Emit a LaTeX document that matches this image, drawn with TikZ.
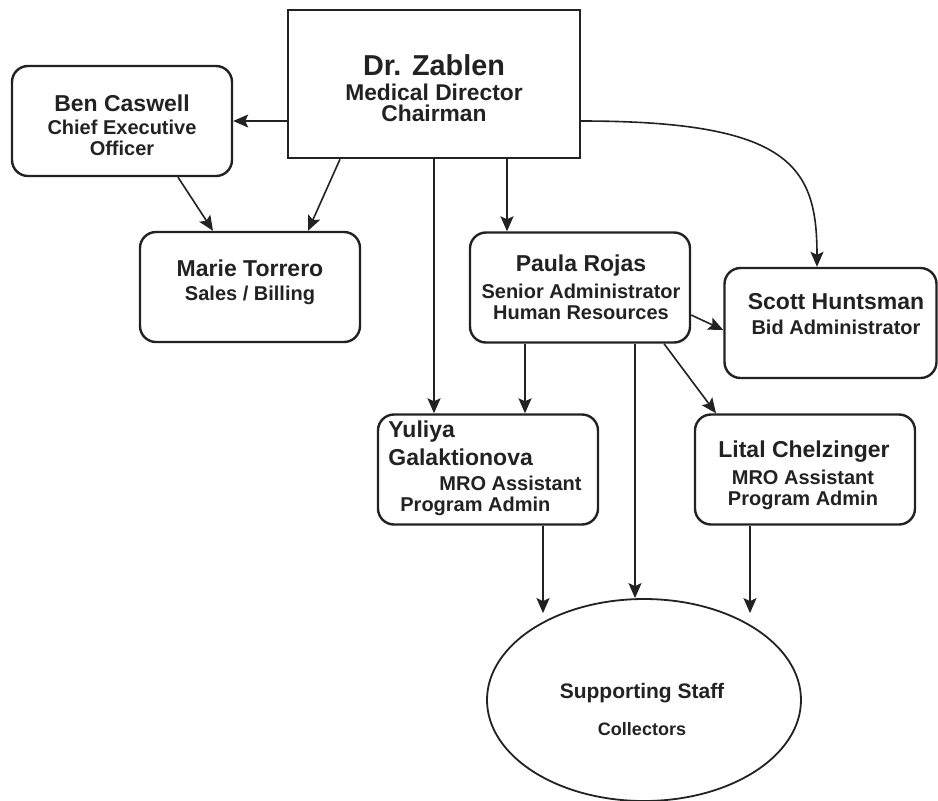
\documentclass[tikz,border=0pt]{standalone}
\usepackage{fontspec}
\setmainfont{Liberation Sans}
\usetikzlibrary{arrows.meta,shapes.geometric}
\definecolor{ink}{HTML}{222222}
\begin{document}
\begin{tikzpicture}[x=0.5pt,y=-0.5pt,
  box/.style={draw=ink, line width=1.2pt, rounded corners=8pt, minimum width=110pt, minimum height=55pt, inner sep=0pt},
  nm/.style={font=\fontsize{11.5}{12}\selectfont\bfseries, text=ink, inner sep=0pt},
  sub/.style={font=\fontsize{10}{10.8}\selectfont\bfseries, text=ink, align=center, inner sep=0pt},
  arr/.style={draw=ink, line width=0.8pt, -{Stealth[length=7.5pt,width=6.5pt,inset=1.5pt]}}]
\useasboundingbox (0,0) rectangle (938,800);
\fill[white] (0,0) rectangle (938,800);

% boxes
\node[draw=ink, line width=1.2pt, minimum width=146pt, minimum height=74pt, inner sep=0pt] (dr) at (434,84) {};
\node[box] (ben) at (122,121) {};
\node[box] (mar) at (250,287) {};
\node[box] (pau) at (580,287.5) {};
\node[box, minimum width=106pt] (sco) at (830.5,323) {};
\node[box] (yul) at (488,469.5) {};
\node[box] (lit) at (805,469.5) {};
\node[ellipse, draw=ink, line width=0.9pt, minimum width=157pt, minimum height=101pt, inner sep=0pt] (ell) at (644,700) {};

% texts
\node[font=\fontsize{14.4}{15}\selectfont\bfseries, text=ink, inner sep=0pt] (drn) at (434,65) {Dr. Zablen};
\node[font=\fontsize{11.4}{10.5}\selectfont\bfseries, text=ink, align=center, inner sep=0pt] (drs) at (434,103) {Medical Director\\Chairman};
\node[nm] (benn) at (122,103) {Ben Caswell};
\node[sub] (bens) at (122,138) {Chief Executive\\Officer};
\node[nm] (marn) at (250,268) {Marie Torrero};
\node[sub] (mars) at (250,295) {Sales / Billing};
\node[nm] (paun) at (581,266) {Paula Rojas};
\node[sub] (paus) at (581,302) {Senior Administrator\\Human Resources};
\node[nm] (scon) at (836,302) {Scott Huntsman};
\node[sub] (scos) at (836,327) {Bid Administrator};
\node[nm, anchor=west] (yuln1) at (388,432) {Yuliya};
\node[nm, anchor=west] (yuln2) at (388,457) {Galaktionova};
\node[sub, anchor=west] (yuls1) at (439,483) {MRO Assistant};
\node[sub, anchor=west] (yuls2) at (400,506) {Program Admin};
\node[nm] (litn) at (804,452) {Lital Chelzinger};
\node[sub] (lits) at (803,490) {MRO Assistant\\Program Admin};
\node[font=\fontsize{10.5}{11}\selectfont\bfseries, text=ink, inner sep=0pt] (ells) at (642,693) {Supporting Staff};
\node[font=\fontsize{9}{10}\selectfont\bfseries, text=ink, inner sep=0pt] (ellc) at (642,729) {Collectors};

% helper coordinates
\coordinate (ellt) at ([yshift=-7.5pt]ell.north);
\coordinate (yulb) at ([xshift=27.5pt]yul.south);
\coordinate (litb) at ([xshift=-27.5pt]lit.south);

% connectors
\draw[arr] (dr.west |- ben.east) -- (ben.east);
\draw[arr] ([xshift=28pt]ben.south) -- ([xshift=-18.5pt]mar.north);
\draw[arr] ([xshift=-47pt]dr.south) -- ([xshift=29pt]mar.north);
\draw[arr] (dr.south) -- (dr.south |- yul.north);
\draw[arr] ([xshift=36.5pt]dr.south) -- ([xshift=-36.5pt]pau.north);
\draw[arr] (dr.east |- ben.east) .. controls +(105pt,0) and +(0,50pt) .. ([xshift=-6.75pt]sco.north);
\draw[arr] ([yshift=-13.75pt]pau.east) -- ([yshift=-3.5pt]sco.west);
\draw[arr] ([xshift=-27.5pt]pau.south) -- ([xshift=18.5pt]yul.north);
\draw[arr] ([xshift=27.5pt]pau.south) -- ([xshift=-4.5pt]ell.north);
\draw[arr] ([xshift=42pt]pau.south) -- ([xshift=-44.5pt]lit.north);
\draw[arr] (yulb) -- (yulb |- ellt);
\draw[arr] (litb) -- (litb |- ellt);
\end{tikzpicture}
\end{document}
